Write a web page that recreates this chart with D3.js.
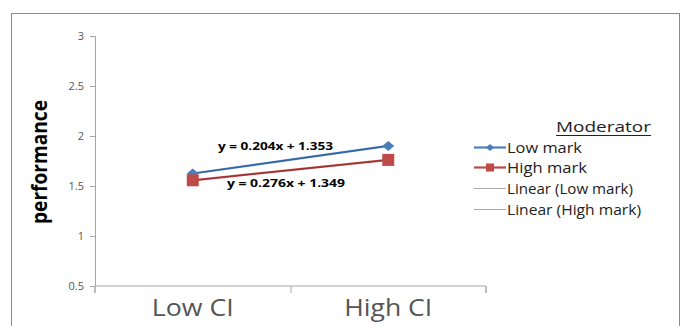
<!DOCTYPE html>
<html lang="en">
<head>
<meta charset="utf-8">
<title>Moderator interaction</title>
<script src="https://cdn.jsdelivr.net/npm/d3@7"></script>
<style>
  body { margin: 0; background: #fff; }
  svg text { font-family: 'Open Sans', Lato, sans-serif; }
  .axis path, .axis line { stroke: #a6a6a6; }
  .axis text { fill: #555; font-size: 11px; }
</style>
</head>
<body>
<script>
// data
const categories = ["Low CI", "High CI"];
const seriesNames = ["Low mark", "High mark"];
const lowMark = [1.625, 1.901];
const highMark = [1.557, 1.761];
const yTicks = [0.5, 1, 1.5, 2, 2.5, 3];
const equations = ["y = 0.204x + 1.353", "y = 0.276x + 1.349"];
const legendLabels = ["Low mark", "High mark", "Linear (Low mark)", "Linear (High mark)"];

const W = 682, H = 326;
const colors = ["#4a7ebb", "#be4b48"];
const dark = ["#2f5f9a", "#8e3030"];

const svg = d3.select("body").append("svg").attr("width", W).attr("height", H);

// chart frame
svg.append("rect")
  .attr("x", 11.5).attr("y", 13.5).attr("width", 668).attr("height", 340)
  .attr("fill", "none").attr("stroke", "#8c8c8c");

const x = d3.scaleBand().domain(categories).range([95, 486]);
const y = d3.scaleLinear().domain([0.5, 3]).range([286, 36]);

// y axis
svg.append("g").attr("class", "axis")
  .attr("transform", "translate(95,0)")
  .call(d3.axisLeft(y).tickValues(yTicks).tickSize(5).tickPadding(6).tickFormat(d3.format("")));

// x axis
const xa = svg.append("g").attr("class", "axis")
  .attr("transform", "translate(0,286)")
  .call(d3.axisBottom(x).tickSize(0).tickPadding(14));
xa.selectAll("text").attr("fill", "#000").style("font-size", "23px")
  .attr("textLength", d => d === "Low CI" ? 82 : 88).attr("lengthAdjust", "spacingAndGlyphs");
xa.select(".domain").attr("d", "M95,7V0H486V7");
xa.selectAll(".xtick").data([95, 291, 486]).enter().append("line")
  .attr("x1", d => d).attr("x2", d => d).attr("y1", 0).attr("y2", 7)
  .attr("stroke", "#a6a6a6");

// y title
svg.append("text")
  .attr("transform", "translate(47,162) rotate(-90)")
  .attr("text-anchor", "middle")
  .attr("font-weight", "bold")
  .attr("textLength", 124).attr("lengthAdjust", "spacingAndGlyphs")
  .style("font-size", "22px")
  .text("performance");

const cx = d => x(d) + x.bandwidth() / 2;
const line = d3.line().x((d, i) => cx(categories[i])).y(d => y(d));
const data = [lowMark, highMark];

// series lines
data.forEach((s, k) => {
  svg.append("path").datum(s).attr("d", line)
    .attr("fill", "none").attr("stroke", colors[k]).attr("stroke-width", 2.2);
});

// linear trendlines (fitted on x = 1, 2)
data.forEach((s, k) => {
  const slope = s[1] - s[0], icpt = s[0] - slope;
  const fit = [1, 2].map(v => slope * v + icpt);
  svg.append("path").datum(fit).attr("d", line)
    .attr("fill", "none").attr("stroke", dark[k]).attr("stroke-width", 1);
});

// markers
svg.selectAll(".diamond").data(lowMark).enter().append("path")
  .attr("d", "M-6,0L0,-5L6,0L0,5Z")
  .attr("transform", (d, i) => `translate(${cx(categories[i])},${y(d)})`)
  .attr("fill", colors[0]);
svg.selectAll(".square").data(highMark).enter().append("rect")
  .attr("x", (d, i) => cx(categories[i]) - 6).attr("y", d => y(d) - 6)
  .attr("width", 12).attr("height", 12).attr("fill", colors[1]);

// equation labels
svg.append("text").attr("x", 218).attr("y", 150)
  .attr("textLength", 115).attr("lengthAdjust", "spacingAndGlyphs")
  .attr("font-weight", "bold").style("font-size", "11px").text(equations[0]);
svg.append("text").attr("x", 227).attr("y", 187)
  .attr("textLength", 118).attr("lengthAdjust", "spacingAndGlyphs")
  .attr("font-weight", "bold").style("font-size", "11px").text(equations[1]);

// legend
svg.append("text").attr("x", 556).attr("y", 132)
  .attr("textLength", 95).attr("lengthAdjust", "spacingAndGlyphs")
  .style("font-size", "15px").attr("fill", "#222").text("Moderator");
svg.append("line").attr("x1", 556).attr("x2", 651).attr("y1", 135.5).attr("y2", 135.5)
  .attr("stroke", "#222").attr("stroke-width", 1);

const legW = [75, 80, 126, 134];
const legY = [147, 167, 188, 209];
const leg = svg.selectAll(".leg").data(legendLabels).enter().append("g")
  .attr("transform", (d, i) => `translate(474,${legY[i]})`);
leg.append("line").attr("x1", 0).attr("x2", 32).attr("y1", 0.5).attr("y2", 0.5)
  .attr("stroke", (d, i) => i < 2 ? colors[i] : "#a8a8a8")
  .attr("stroke-width", (d, i) => i < 2 ? 2.2 : 1);
leg.filter((d, i) => i === 0).append("path")
  .attr("d", "M-4,0L0,-3.5L4,0L0,3.5Z").attr("transform", "translate(16,0.5)")
  .attr("fill", colors[0]);
leg.filter((d, i) => i === 1).append("rect")
  .attr("x", 12).attr("y", -3.5).attr("width", 8).attr("height", 8).attr("fill", colors[1]);
leg.append("text").attr("x", 33).attr("y", 5.5)
  .attr("textLength", (d, i) => legW[i]).attr("lengthAdjust", "spacingAndGlyphs")
  .style("font-size", "14px").attr("fill", "#222").text(d => d);
</script>
</body>
</html>
